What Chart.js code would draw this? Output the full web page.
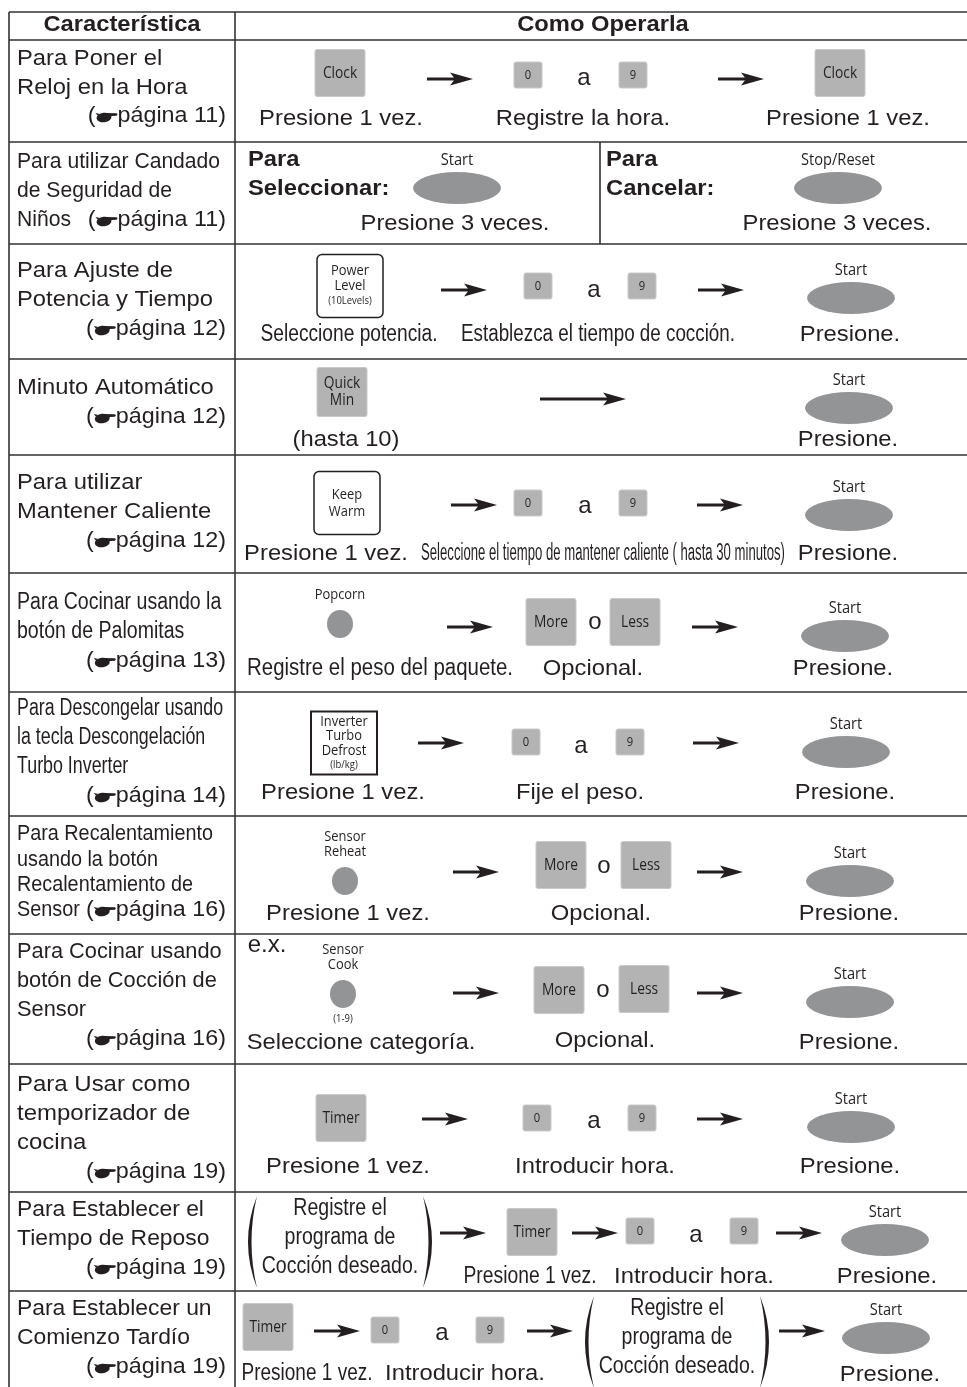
<!DOCTYPE html>
<html>
<head>
<meta charset="utf-8">
<script src="https://cdn.jsdelivr.net/npm/chart.js@4.4.1/dist/chart.umd.min.js"></script>
<style>
  html, body { margin: 0; background: #fff; }
  canvas { display: block; }
</style>
</head>
<body>
<canvas id="tabla" width="967" height="1387"></canvas>
<script>
// ---- contenido de la tabla ----
const headers = ['Característica', 'Como Operarla'];

const featureLines = [
  ['Para Poner el', 'Reloj en la Hora'],
  ['Para utilizar Candado', 'de Seguridad de', 'Niños'],
  ['Para Ajuste de', 'Potencia y Tiempo'],
  ['Minuto Automático'],
  ['Para utilizar', 'Mantener Caliente'],
  ['Para Cocinar usando la', 'botón de Palomitas'],
  ['Para Descongelar usando', 'la tecla Descongelación', 'Turbo Inverter'],
  ['Para Recalentamiento', 'usando la botón', 'Recalentamiento de', 'Sensor'],
  ['Para Cocinar usando', 'botón de Cocción de', 'Sensor'],
  ['Para Usar como', 'temporizador de', 'cocina'],
  ['Para Establecer el', 'Tiempo de Reposo'],
  ['Para Establecer un', 'Comienzo Tardío']
];

const pageRefs = [11, 11, 12, 12, 12, 13, 14, 16, 16, 19, 19, 19];

const PROG = 'paren:Registre el|programa de|Cocción deseado.';
const rowIcons = [
  ['key:Clock', 'arrow', 'num:0', 'txt:a', 'num:9', 'arrow', 'key:Clock'],
  ['bold:Para|Seleccionar:', 'oval:Start', 'bold:Para|Cancelar:', 'oval:Stop/Reset'],
  ['box:Power|Level|(10Levels)', 'arrow', 'num:0', 'txt:a', 'num:9', 'arrow', 'oval:Start'],
  ['key:Quick|Min', 'longarrow', 'oval:Start'],
  ['box:Keep|Warm', 'arrow', 'num:0', 'txt:a', 'num:9', 'arrow', 'oval:Start'],
  ['dot:Popcorn', 'arrow', 'key:More', 'txt:o', 'key:Less', 'arrow', 'oval:Start'],
  ['box:Inverter|Turbo|Defrost|(lb/kg)', 'arrow', 'num:0', 'txt:a', 'num:9', 'arrow', 'oval:Start'],
  ['dot:Sensor|Reheat', 'arrow', 'key:More', 'txt:o', 'key:Less', 'arrow', 'oval:Start'],
  ['txt:e.x.', 'dot:Sensor|Cook~(1-9)', 'arrow', 'key:More', 'txt:o', 'key:Less', 'arrow', 'oval:Start'],
  ['key:Timer', 'arrow', 'num:0', 'txt:a', 'num:9', 'arrow', 'oval:Start'],
  [PROG, 'arrow', 'key:Timer', 'arrow', 'num:0', 'txt:a', 'num:9', 'arrow', 'oval:Start'],
  ['key:Timer', 'arrow', 'num:0', 'txt:a', 'num:9', 'arrow', PROG, 'arrow', 'oval:Start']
];

const rowCaptions = [
  ['Presione 1 vez.', 'Registre la hora.', 'Presione 1 vez.'],
  ['Presione 3 veces.', 'Presione 3 veces.'],
  ['Seleccione potencia.', 'Establezca el tiempo de cocción.', 'Presione.'],
  ['(hasta 10)', 'Presione.'],
  ['Presione 1 vez.', 'Seleccione el tiempo de mantener caliente ( hasta 30 minutos)', 'Presione.'],
  ['Registre el peso del paquete.', 'Opcional.', 'Presione.'],
  ['Presione 1 vez.', 'Fije el peso.', 'Presione.'],
  ['Presione 1 vez.', 'Opcional.', 'Presione.'],
  ['Seleccione categoría.', 'Opcional.', 'Presione.'],
  ['Presione 1 vez.', 'Introducir hora.', 'Presione.'],
  ['Presione 1 vez.', 'Introducir hora.', 'Presione.'],
  ['Presione 1 vez.', 'Introducir hora.', 'Presione.']
];

// ---- disposición (coordenadas de la escala, no datos) ----
const rowEdges = [12, 40, 142, 244, 359, 455, 573, 692, 816, 934, 1064, 1192, 1291, 1387];
const colEdges = [9, 235];
const splitCell = { row: 1, x: 600 };

const leftLayout = [
  { ys: [59, 88], ref: 116, size: 22, sx: 1.08 },
  { ys: [162, 191, 220], ref: 220, size: 22, sx: 0.96 },
  { ys: [271, 300], ref: 329, size: 22, sx: 1.08 },
  { ys: [388], ref: 417, size: 22, sx: 1.08 },
  { ys: [483, 512], ref: 541, size: 22, sx: 1.08 },
  { ys: [603, 632], ref: 661, size: 23, sx: 0.85 },
  { ys: [709, 738, 767], ref: 796, size: 23, sx: 0.775 },
  { ys: [834, 860, 885, 910], ref: 910, size: 22, sx: 0.9 },
  { ys: [952, 981, 1010], ref: 1039, size: 22, sx: 0.99 },
  { ys: [1085, 1114, 1143], ref: 1172, size: 22, sx: 1.09 },
  { ys: [1210, 1239], ref: 1268, size: 22, sx: 1.04 },
  { ys: [1309, 1338], ref: 1367, size: 22, sx: 1.04 }
];

const iconPos = [
  [[340, 73], [450, 79], [528, 75], [584, 78], [633, 75], [741, 79], [840, 73]],
  [[248, 160], [457, 188], [606, 160], [838, 188]],
  [[350, 286], [464, 290], [538, 286], [594, 290], [642, 286], [721, 290], [851, 298]],
  [[342, 392], [583, 399], [849, 408]],
  [[347, 503], [474, 505], [528, 503], [585, 506], [633, 503], [720, 505], [849, 515]],
  [[340, 624], [470, 627], [551, 622], [595, 622], [635, 622], [715, 627], [845, 636]],
  [[344, 743], [441, 743], [526, 742], [581, 746], [630, 742], [716, 743], [846, 752]],
  [[345, 881], [476, 872], [561, 865], [604, 866], [646, 865], [720, 872], [850, 881]],
  [[267, 945], [343, 994], [476, 993], [559, 990], [603, 990], [644, 989], [720, 993], [850, 1002]],
  [[341, 1118], [445, 1119], [537, 1118], [594, 1121], [642, 1118], [720, 1119], [851, 1127]],
  [[340, 1238], [463, 1233], [532, 1232], [595, 1233], [640, 1231], [696, 1235], [744, 1231], [799, 1233], [885, 1240]],
  [[268, 1327], [337, 1331], [385, 1330], [442, 1333], [490, 1330], [550, 1331], [677, 1338], [802, 1331], [886, 1338]]
];

// [x centro, y, ancho forzado (opcional)]
const captionPos = [
  [[341, 119], [583, 119], [848, 119]],
  [[455, 224], [837, 224]],
  [[349, 335, 177], [598, 335, 274], [850, 335]],
  [[346, 440], [848, 440]],
  [[326, 554], [603, 554, 364], [848, 554]],
  [[380, 669, 266], [593, 669], [843, 669]],
  [[343, 793], [580, 793], [845, 793]],
  [[348, 914], [601, 914], [849, 914]],
  [[361, 1043], [605, 1041], [849, 1043]],
  [[348, 1167], [595, 1167], [850, 1167]],
  [[530, 1277, 133], [694, 1277], [887, 1277]],
  [[307, 1374, 131], [465, 1374], [890, 1375]]
];

const INK = '#231f20';
const KEY_FILL = '#b3b3b3';
const OVAL_FILL = '#939496';
const MAIN = '"Liberation Sans", Arial, "DejaVu Sans", sans-serif';
const KEYF = '"Open Sans", "Liberation Sans", sans-serif';

function setFont(ctx, size, bold, family) {
  ctx.font = (bold ? 'bold ' : '') + size + 'px ' + (family || MAIN);
}

function put(ctx, s, x, y, o = {}) {
  setFont(ctx, o.size || 22, o.bold, o.family);
  ctx.fillStyle = INK;
  ctx.textAlign = 'left';
  ctx.textBaseline = 'middle';
  const w = ctx.measureText(s).width;
  const k = o.width ? o.width / w : (o.sx || 1.08);
  const tw = w * k;
  const left = o.align === 'center' ? x - tw / 2 : o.align === 'right' ? x - tw : x;
  ctx.save();
  ctx.translate(left, y);
  ctx.scale(k, 1);
  ctx.fillText(s, 0, 0);
  ctx.restore();
  return tw;
}

function keyText(ctx, s, x, y, size) {
  put(ctx, s, x, y, { size: size, family: KEYF, sx: 0.86, align: 'center' });
}

// mano negra que apunta a la derecha
function hand(ctx, hx, y) {
  ctx.fillStyle = INK;
  ctx.beginPath();
  ctx.ellipse(hx + 8, y + 1, 7.5, 4.8, -0.12, 0, Math.PI * 2);
  ctx.fill();
  ctx.beginPath();
  ctx.moveTo(hx + 7, y - 3.6);
  ctx.lineTo(hx + 20.5, y - 3.2);
  ctx.quadraticCurveTo(hx + 22.5, y - 2, hx + 20.5, y - 0.8);
  ctx.lineTo(hx + 11, y - 0.2);
  ctx.closePath();
  ctx.fill();
  ctx.beginPath();
  ctx.moveTo(hx + 1.5, y - 1);
  ctx.lineTo(hx - 0.5, y - 3.5);
  ctx.lineTo(hx + 4, y - 2.5);
  ctx.closePath();
  ctx.fill();
}

function pageRef(ctx, n, xRight, y) {
  const k = 1.06;
  setFont(ctx, 22);
  const wOpen = ctx.measureText('(').width * k;
  const rest = 'página ' + n + ')';
  const wRest = ctx.measureText(rest).width * k;
  const hw = 22;
  const start = xRight - wOpen - hw - wRest;
  put(ctx, '(', start, y, { sx: k });
  hand(ctx, start + wOpen + 0.5, y + 0.5);
  put(ctx, rest, start + wOpen + hw, y, { sx: k });
}

function arrow(ctx, x, y, len) {
  const x0 = x - len / 2, x1 = x + len / 2;
  ctx.strokeStyle = INK;
  ctx.lineWidth = 3;
  ctx.beginPath();
  ctx.moveTo(x0, y);
  ctx.lineTo(x1 - 12, y);
  ctx.stroke();
  ctx.fillStyle = INK;
  ctx.beginPath();
  ctx.moveTo(x1, y);
  ctx.lineTo(x1 - 23, y - 6.5);
  ctx.lineTo(x1 - 18, y);
  ctx.lineTo(x1 - 23, y + 6.5);
  ctx.closePath();
  ctx.fill();
}

function greyKey(ctx, x, y, w, h) {
  ctx.fillStyle = KEY_FILL;
  ctx.beginPath();
  ctx.roundRect(x - w / 2, y - h / 2, w, h, 2);
  ctx.fill();
  ctx.strokeStyle = '#c9c9c9';
  ctx.lineWidth = 1;
  ctx.stroke();
}

function paren(ctx, xEdge, top, bottom, dir) {
  // dir -1 = "(" , +1 = ")"
  const mid = (top + bottom) / 2, b = 9, t = 3.5;
  ctx.fillStyle = INK;
  ctx.beginPath();
  ctx.moveTo(xEdge - dir * b, top);
  ctx.quadraticCurveTo(xEdge + dir * b, mid, xEdge - dir * b, bottom);
  ctx.quadraticCurveTo(xEdge + dir * (b - 2 * t), mid, xEdge - dir * b, top);
  ctx.fill();
}

function drawIcon(ctx, token, x, y) {
  const i = token.indexOf(':');
  const type = i < 0 ? token : token.slice(0, i);
  const arg = i < 0 ? '' : token.slice(i + 1);
  const lines = arg.split('|');
  if (type === 'arrow') arrow(ctx, x, y, 46);
  else if (type === 'longarrow') arrow(ctx, x, y, 86);
  else if (type === 'txt') put(ctx, arg, x, y, { size: 24, sx: 1.0, align: 'center' });
  else if (type === 'bold') lines.forEach((l, k) => put(ctx, l, x, y + k * 29, { bold: true }));
  else if (type === 'num') {
    greyKey(ctx, x, y, 28, 26);
    keyText(ctx, arg, x, y, 13);
  } else if (type === 'key') {
    greyKey(ctx, x, y, 50, lines.length > 1 ? 49 : 47);
    const gap = 17;
    lines.forEach((l, k) => keyText(ctx, l, x, y + (k - (lines.length - 1) / 2) * gap, 16));
  } else if (type === 'box') {
    const w = 66, h = 63;
    ctx.fillStyle = '#fff';
    ctx.strokeStyle = INK;
    ctx.lineWidth = lines.length > 3 ? 2 : 1.5;
    ctx.beginPath();
    ctx.roundRect(x - w / 2, y - h / 2, w, h, lines.length > 3 ? 0 : 5);
    ctx.fill();
    ctx.stroke();
    const gap = lines.length > 3 ? 14.5 : (lines.length > 2 ? 15 : 17);
    lines.forEach((l, k) => {
      const small = l.startsWith('(');
      keyText(ctx, l, x, y + (k - (lines.length - 1) / 2) * gap, small ? 11 : 15);
    });
  } else if (type === 'oval') {
    keyText(ctx, arg, x, y - 28, 17);
  } else if (type === 'dot') {
    const [above, below] = arg.split('~');
    const al = above.split('|');
    al.forEach((l, k) => keyText(ctx, l, x, y - 29 - (al.length - 1 - k) * 15, 15));
    if (below) keyText(ctx, below, x, y + 25, 11);
  } else if (type === 'paren') {
    const top = y - 42, bottom = y + 50;
    paren(ctx, x - 92, top, bottom, -1);
    paren(ctx, x + 92, top, bottom, 1);
    lines.forEach((l, k) => put(ctx, l, x, y + (k - 1) * 29, { size: 23, sx: 0.85, align: 'center' }));
  }
}

const tablePlugin = {
  id: 'tabla',
  beforeDatasetsDraw(chart) {
    const ctx = chart.ctx;
    const sx = chart.scales.x, sy = chart.scales.y;
    const P = v => sx.getPixelForValue(v);
    const Q = v => sy.getPixelForValue(v);

    ctx.save();
    // cuadrícula
    ctx.strokeStyle = '#333';
    ctx.lineWidth = 1.6;
    ctx.beginPath();
    rowEdges.slice(0, -1).forEach(y => {
      ctx.moveTo(P(colEdges[0]), Q(y));
      ctx.lineTo(P(967), Q(y));
    });
    colEdges.forEach(x => {
      ctx.moveTo(P(x), Q(rowEdges[0]));
      ctx.lineTo(P(x), Q(rowEdges[rowEdges.length - 1]));
    });
    ctx.moveTo(P(splitCell.x), Q(rowEdges[splitCell.row + 1]));
    ctx.lineTo(P(splitCell.x), Q(rowEdges[splitCell.row + 2]));
    ctx.stroke();

    // encabezados
    put(ctx, headers[0], P(122), Q(25), { bold: true, align: 'center' });
    put(ctx, headers[1], P(603), Q(25), { bold: true, align: 'center' });

    // columna izquierda
    featureLines.forEach((lines, r) => {
      const L = leftLayout[r];
      lines.forEach((l, k) => put(ctx, l, P(17), Q(L.ys[k]), { size: L.size, sx: L.sx }));
      pageRef(ctx, pageRefs[r], P(226), Q(L.ref));
    });

    // iconos y pies
    rowIcons.forEach((row, r) => {
      row.forEach((tok, k) => drawIcon(ctx, tok, P(iconPos[r][k][0]), Q(iconPos[r][k][1])));
      rowCaptions[r].forEach((c, k) => {
        const [x, y, w] = captionPos[r][k];
        put(ctx, c, P(x), Q(y), w ? { size: 23, width: w, align: 'center' } : { align: 'center' });
      });
    });
    ctx.restore();
  }
};

function shapeImage(rx, ry) {
  const c = document.createElement('canvas');
  c.width = rx * 2 + 2;
  c.height = ry * 2 + 2;
  const g = c.getContext('2d');
  g.fillStyle = OVAL_FILL;
  g.beginPath();
  g.ellipse(rx + 1, ry + 1, rx, ry, 0, 0, Math.PI * 2);
  g.fill();
  return c;
}

const ovalPts = [], dotPts = [];
rowIcons.forEach((row, r) => row.forEach((tok, k) => {
  const [x, y] = iconPos[r][k];
  if (tok.startsWith('oval:')) ovalPts.push({ x, y });
  if (tok.startsWith('dot:')) dotPts.push({ x, y });
}));

new Chart(document.getElementById('tabla'), {
  type: 'scatter',
  data: {
    datasets: [
      { data: ovalPts, pointStyle: shapeImage(44, 16), pointRadius: 20, clip: false },
      { data: dotPts, pointStyle: shapeImage(13, 14), pointRadius: 13, clip: false }
    ]
  },
  options: {
    responsive: false,
    animation: false,
    devicePixelRatio: 1,
    events: [],
    layout: { padding: 0, autoPadding: false },
    plugins: { legend: { display: false }, tooltip: { enabled: false } },
    scales: {
      x: { type: 'linear', min: 0, max: 967, display: false },
      y: { type: 'linear', min: 0, max: 1387, reverse: true, display: false }
    }
  },
  plugins: [tablePlugin]
});
</script>
</body>
</html>
